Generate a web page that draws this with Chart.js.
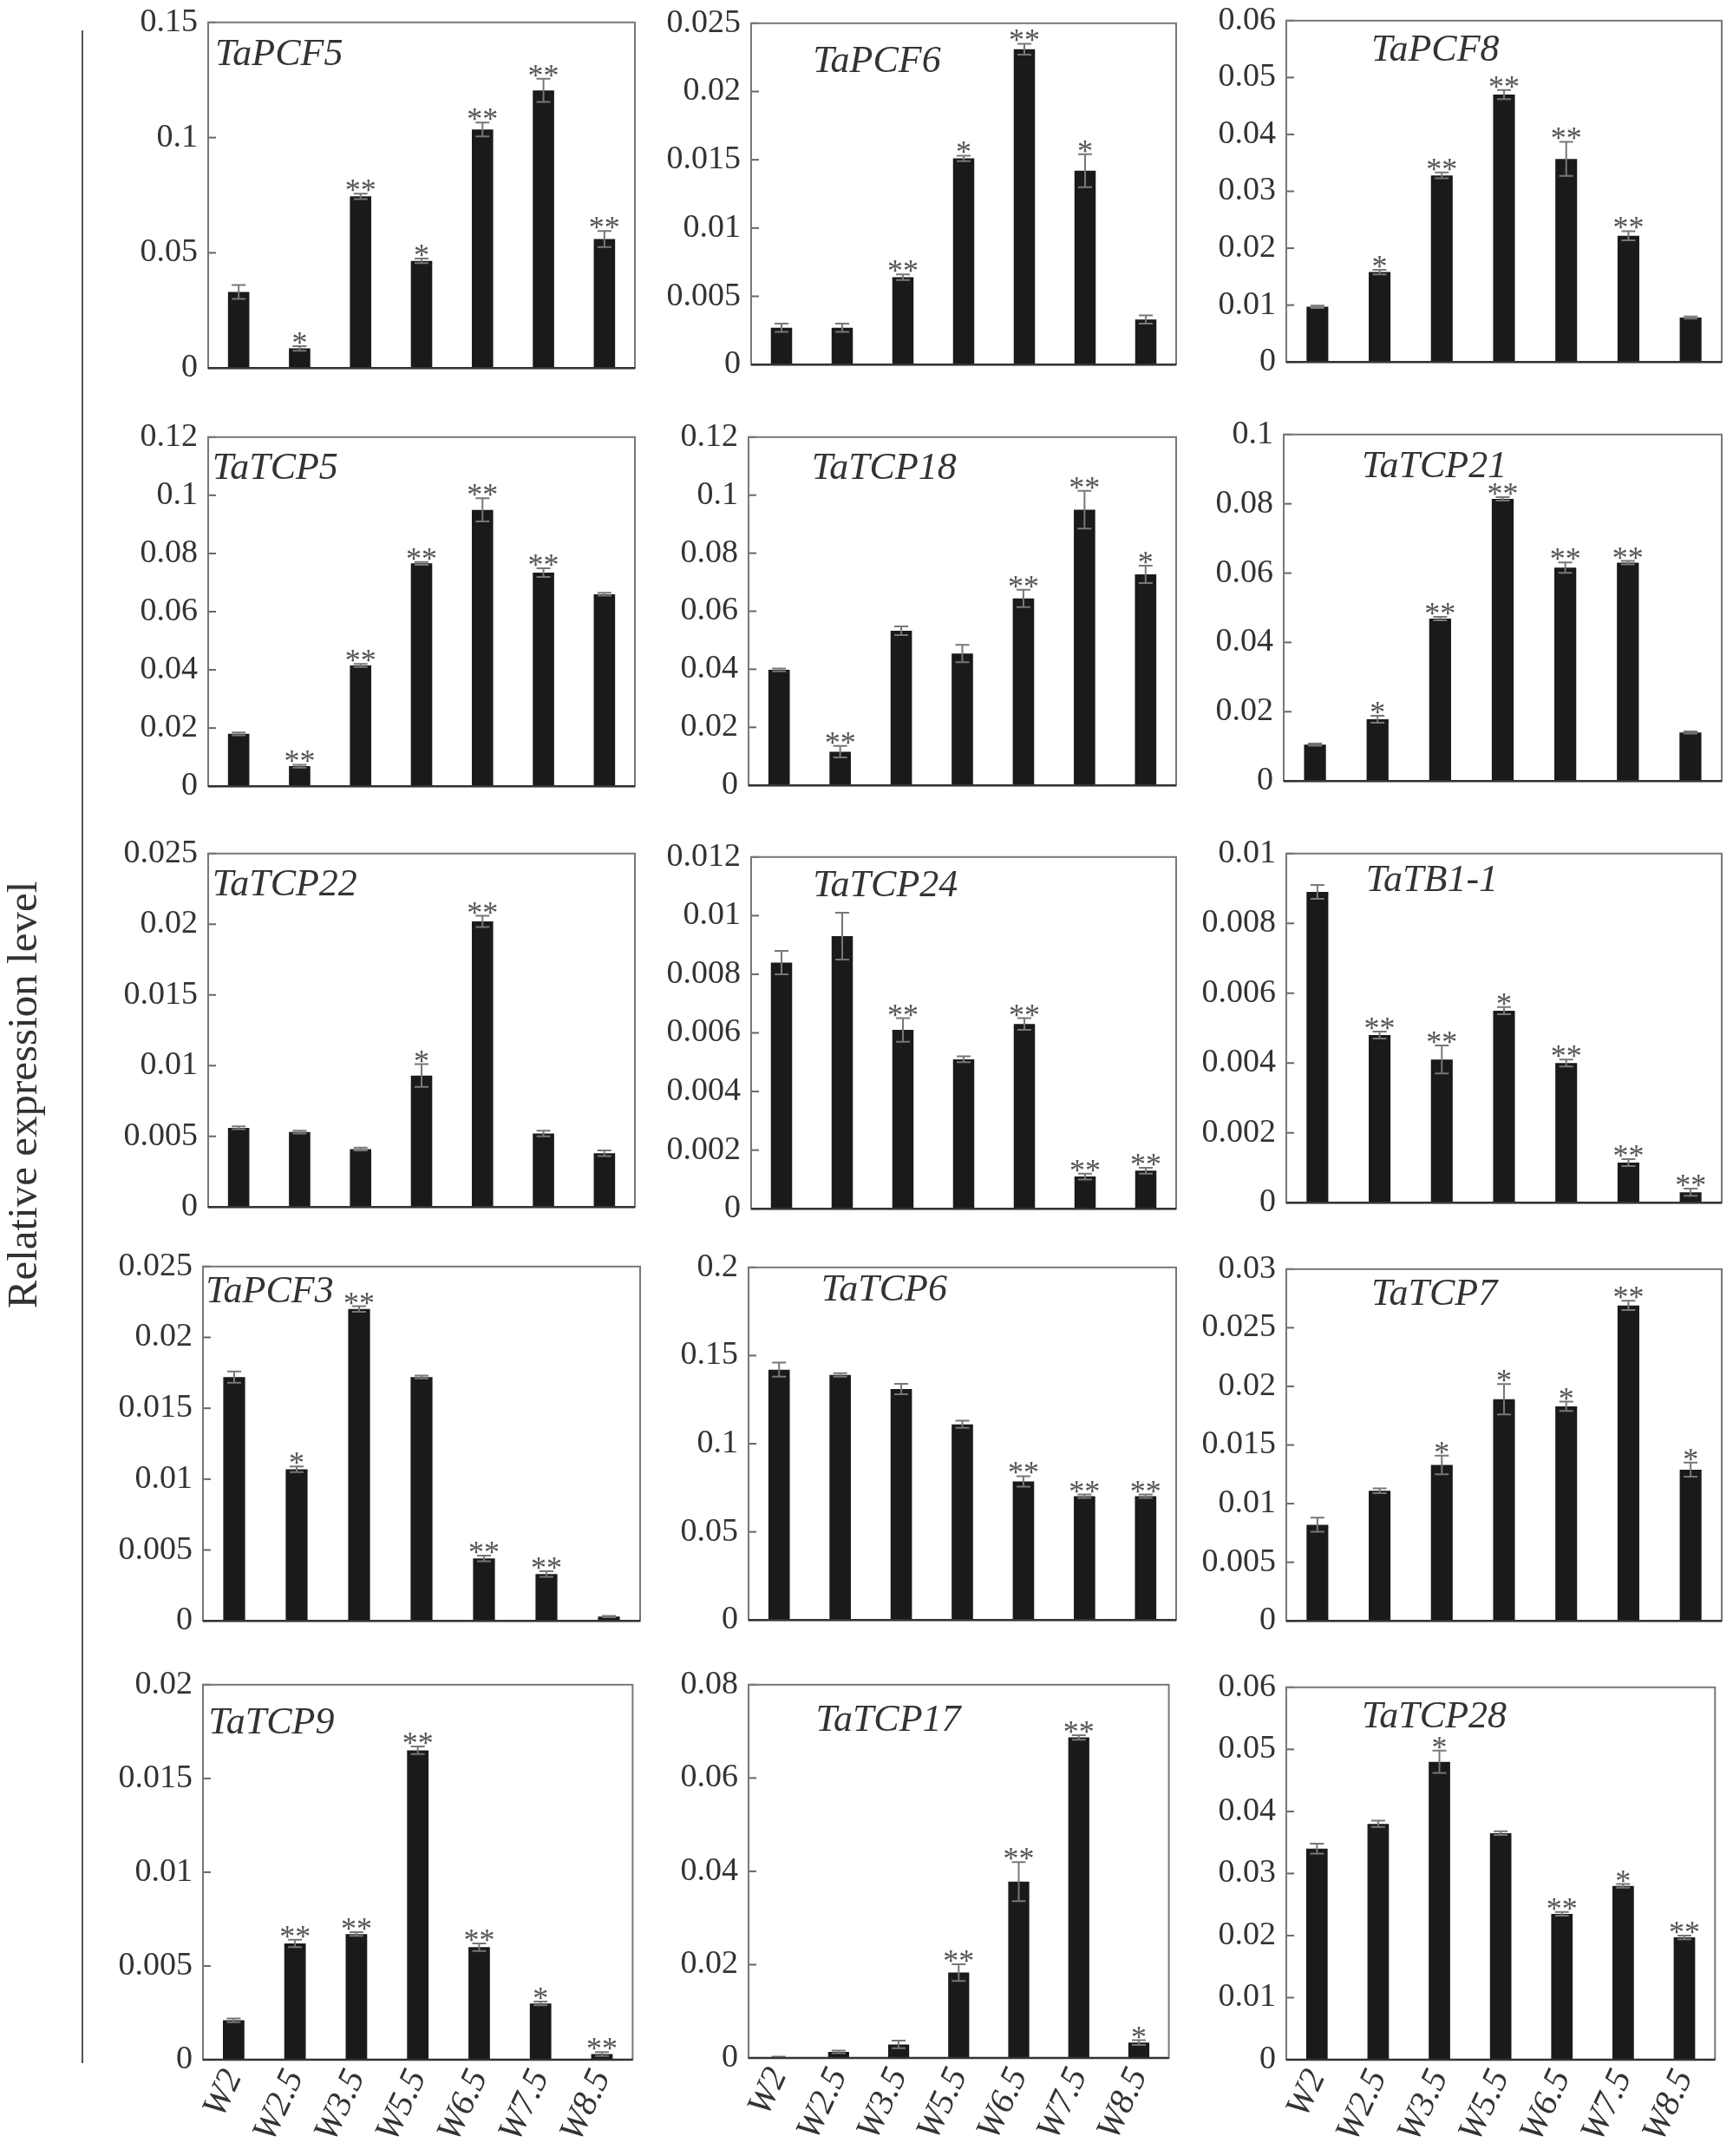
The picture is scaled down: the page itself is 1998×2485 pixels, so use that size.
<!DOCTYPE html>
<html>
<head>
<meta charset="utf-8">
<script src="https://cdn.jsdelivr.net/npm/chart.js@4"></script>
<style>
  html, body { margin:0; padding:0; background:#fff; }
  #page { position:relative; width:1998px; height:2485px; overflow:hidden; background:#fff; }
  canvas { position:absolute; }
  #ytitle { position:absolute; left:25px; top:1262px; transform:translate(-50%,-50%) rotate(-90deg);
    font-family:"Liberation Serif","Times New Roman",serif; font-size:49px; color:#333; white-space:nowrap; }
  #vline { position:absolute; left:94px; top:35px; width:2px; height:2343px; background:#555; }
</style>
</head>
<body>
<div id="page">
  <div id="vline"></div>
  <div id="ytitle">Relative expression level</div>
</div>
<script>
// ---------------- DATA ----------------
const categories = ["W2", "W2.5", "W3.5", "W5.5", "W6.5", "W7.5", "W8.5"];
const genes = ["TaPCF5","TaPCF6","TaPCF8","TaTCP5","TaTCP18","TaTCP21","TaTCP22","TaTCP24","TaTB1-1","TaPCF3","TaTCP6","TaTCP7","TaTCP9","TaTCP17","TaTCP28"];

const TaPCF5_mean = [0.033, 0.0085, 0.0745, 0.0465, 0.1035, 0.1205, 0.056];
const TaPCF5_err  = [0.003, 0.001, 0.0012, 0.001, 0.003, 0.005, 0.0035];
const TaPCF5_sig  = ["", "*", "**", "*", "**", "**", "**"];

const TaPCF6_mean = [0.0027, 0.0027, 0.0064, 0.0151, 0.0231, 0.0142, 0.0033];
const TaPCF6_err  = [0.0003, 0.0003, 0.0002, 0.0002, 0.0004, 0.0012, 0.0003];
const TaPCF6_sig  = ["", "", "**", "*", "**", "*", ""];

const TaPCF8_mean = [0.0097, 0.0158, 0.0328, 0.047, 0.0357, 0.0222, 0.0078];
const TaPCF8_err  = [0.0002, 0.0004, 0.0005, 0.0008, 0.003, 0.0008, 0.0002];
const TaPCF8_sig  = ["", "*", "**", "**", "**", "**", ""];

const TaTCP5_mean = [0.018, 0.0069, 0.0415, 0.0766, 0.095, 0.0734, 0.066];
const TaTCP5_err  = [0.0005, 0.0005, 0.0005, 0.0005, 0.004, 0.0015, 0.0005];
const TaTCP5_sig  = ["", "**", "**", "**", "**", "**", ""];

const TaTCP18_mean = [0.0398, 0.0116, 0.0533, 0.0454, 0.0644, 0.095, 0.0727];
const TaTCP18_err  = [0.0005, 0.002, 0.0015, 0.003, 0.003, 0.0065, 0.003];
const TaTCP18_sig  = ["", "**", "", "", "**", "**", "*"];

const TaTCP21_mean = [0.0105, 0.0178, 0.0469, 0.0814, 0.0616, 0.063, 0.014];
const TaTCP21_err  = [0.0003, 0.001, 0.0005, 0.0005, 0.0015, 0.0005, 0.0003];
const TaTCP21_sig  = ["", "*", "**", "**", "**", "**", ""];

const TaTCP22_mean = [0.0056, 0.0053, 0.0041, 0.0093, 0.0202, 0.0052, 0.0038];
const TaTCP22_err  = [0.0001, 0.0001, 0.0001, 0.0008, 0.0004, 0.0002, 0.0002];
const TaTCP22_sig  = ["", "", "", "*", "**", "", ""];

const TaTCP24_mean = [0.0084, 0.0093, 0.0061, 0.0051, 0.0063, 0.0011, 0.0013];
const TaTCP24_err  = [0.0004, 0.0008, 0.0004, 0.0001, 0.0002, 0.0001, 0.0001];
const TaTCP24_sig  = ["", "", "**", "", "**", "**", "**"];

const TaTB1_1_mean = [0.0089, 0.0048, 0.0041, 0.0055, 0.004, 0.00115, 0.0003];
const TaTB1_1_err  = [0.0002, 0.0001, 0.0004, 0.0001, 0.0001, 0.0001, 0.0001];
const TaTB1_1_sig  = ["", "**", "**", "*", "**", "**", "**"];

const TaPCF3_mean = [0.0172, 0.0107, 0.022, 0.0172, 0.0044, 0.0033, 0.0003];
const TaPCF3_err  = [0.0004, 0.0002, 0.0002, 0.0001, 0.0002, 0.0002, 0.00005];
const TaPCF3_sig  = ["", "*", "**", "", "**", "**", ""];

const TaTCP6_mean = [0.142, 0.139, 0.131, 0.111, 0.0786, 0.0702, 0.0702];
const TaTCP6_err  = [0.004, 0.001, 0.003, 0.002, 0.003, 0.001, 0.001];
const TaTCP6_sig  = ["", "", "", "", "**", "**", "**"];

const TaTCP7_mean = [0.0082, 0.0111, 0.0133, 0.0189, 0.0183, 0.0269, 0.0129];
const TaTCP7_err  = [0.0006, 0.0002, 0.0008, 0.0013, 0.0004, 0.0004, 0.0006];
const TaTCP7_sig  = ["", "", "*", "*", "*", "**", "*"];

const TaTCP9_mean = [0.0021, 0.0062, 0.0067, 0.0165, 0.006, 0.003, 0.0003];
const TaTCP9_err  = [0.0001, 0.0002, 0.0001, 0.0002, 0.0002, 0.0001, 0.0001];
const TaTCP9_sig  = ["", "**", "**", "**", "**", "*", "**"];

const TaTCP17_mean = [0.0002, 0.0013, 0.0029, 0.0183, 0.0378, 0.0687, 0.0033];
const TaTCP17_err  = [0.0001, 0.0003, 0.0008, 0.0018, 0.0042, 0.0005, 0.0005];
const TaTCP17_sig  = ["", "", "", "**", "**", "**", "*"];

const TaTCP28_mean = [0.034, 0.038, 0.048, 0.0365, 0.0235, 0.028, 0.0197];
const TaTCP28_err  = [0.0008, 0.0005, 0.0018, 0.0003, 0.0003, 0.0003, 0.0003];
const TaTCP28_sig  = ["", "", "*", "", "**", "*", "**"];

const yMax  = [0.15, 0.025, 0.06, 0.12, 0.12, 0.1, 0.025, 0.012, 0.01, 0.025, 0.2, 0.03, 0.02, 0.08, 0.06];
const yStep = [0.05, 0.005, 0.01, 0.02, 0.02, 0.02, 0.005, 0.002, 0.002, 0.005, 0.05, 0.005, 0.005, 0.02, 0.01];

const means = [TaPCF5_mean, TaPCF6_mean, TaPCF8_mean, TaTCP5_mean, TaTCP18_mean, TaTCP21_mean, TaTCP22_mean, TaTCP24_mean, TaTB1_1_mean, TaPCF3_mean, TaTCP6_mean, TaTCP7_mean, TaTCP9_mean, TaTCP17_mean, TaTCP28_mean];
const errs  = [TaPCF5_err, TaPCF6_err, TaPCF8_err, TaTCP5_err, TaTCP18_err, TaTCP21_err, TaTCP22_err, TaTCP24_err, TaTB1_1_err, TaPCF3_err, TaTCP6_err, TaTCP7_err, TaTCP9_err, TaTCP17_err, TaTCP28_err];
const sigs  = [TaPCF5_sig, TaPCF6_sig, TaPCF8_sig, TaTCP5_sig, TaTCP18_sig, TaTCP21_sig, TaTCP22_sig, TaTCP24_sig, TaTB1_1_sig, TaPCF3_sig, TaTCP6_sig, TaTCP7_sig, TaTCP9_sig, TaTCP17_sig, TaTCP28_sig];

// ---------------- LAYOUT (page pixels) ----------------
const SX = 1998/1264, SY = 2485/1568;
const frames = [
  [152,13,463,271],[548,14,858,268],[938,12,1256,266],
  [152,315,463,575],[546,315,858,574],[936,313,1256,571],
  [152,618,463,881],[548,620,858,882],[938,618,1256,878],
  [148,918,467,1182],[546,919,858,1181],[938,920,1256,1182],
  [148,1222,466,1498],[546,1222,858,1497],[938,1224,1256,1498]
];
const titleOff = [
  [5,24],[45,28],[62,22],
  [3,23],[46,23],[57,24],
  [3,23],[45,21],[58,20],
  [2,19],[53,17],[62,19],
  [4,28],[49,26],[55,22]
];

const FONT = '"Liberation Serif","Times New Roman",serif';
const AX = 120, PT = 30, PR = 6, PB = 30, XH = 110;

const decor = {
  id: 'decor',
  afterDatasetsDraw(chart, args, opts) {
    const ctx = chart.ctx, ca = chart.chartArea;
    const ys = chart.scales.y;
    const meta = chart.getDatasetMeta(0);
    const m = opts.mean, e = opts.err, s = opts.sig;
    ctx.save();
    ctx.strokeStyle = '#777';
    ctx.lineWidth = 2;
    for (let i = 0; i < m.length; i++) {
      const x = meta.data[i].x;
      const yT = ys.getPixelForValue(m[i] + e[i]);
      const yB = ys.getPixelForValue(Math.max(0, m[i] - e[i]));
      ctx.beginPath();
      ctx.moveTo(x, yT); ctx.lineTo(x, yB);
      ctx.moveTo(x - 8, yT); ctx.lineTo(x + 8, yT);
      ctx.moveTo(x - 8, yB); ctx.lineTo(x + 8, yB);
      ctx.stroke();
    }
    ctx.fillStyle = '#555';
    ctx.font = '36px ' + FONT;
    ctx.textAlign = 'center';
    ctx.textBaseline = 'alphabetic';
    for (let i = 0; i < m.length; i++) {
      if (!s[i]) continue;
      const x = meta.data[i].x;
      const yT = ys.getPixelForValue(m[i] + e[i]);
      ctx.fillText(s[i], x, yT + 8);
    }
    ctx.strokeStyle = '#666';
    ctx.lineWidth = 2;
    ys.ticks.forEach(t => {
      const y = ys.getPixelForValue(t.value);
      ctx.beginPath(); ctx.moveTo(ca.left, y); ctx.lineTo(ca.left + 9, y); ctx.stroke();
    });
    ctx.strokeStyle = '#777';
    ctx.lineWidth = 2;
    ctx.strokeRect(ca.left, ca.top, ca.right - ca.left, ca.bottom - ca.top);
    ctx.strokeStyle = '#333';
    ctx.lineWidth = 2.5;
    ctx.beginPath(); ctx.moveTo(ca.left, ca.bottom); ctx.lineTo(ca.right, ca.bottom); ctx.stroke();
    ctx.fillStyle = '#333';
    ctx.font = 'italic 44px ' + FONT;
    ctx.textAlign = 'left';
    ctx.textBaseline = 'middle';
    ctx.fillText(opts.title, ca.left + opts.tdx, ca.top + opts.tdy);
    ctx.restore();
  }
};

const page = document.getElementById('page');
genes.forEach((g, k) => {
  const f = frames[k];
  const L = Math.round(f[0]*SX), T = Math.round(f[1]*SY), R = Math.round(f[2]*SX), B = Math.round(f[3]*SY);
  const lastRow = k >= 12;
  const w = AX + (R - L) + PR;
  const h = PT + (B - T) + (lastRow ? XH : PB);
  const cv = document.createElement('canvas');
  cv.width = w; cv.height = h;
  cv.style.left = (L - AX) + 'px';
  cv.style.top = (T - PT) + 'px';
  cv.style.width = w + 'px'; cv.style.height = h + 'px';
  page.appendChild(cv);
  const xScale = {
    display: lastRow,
    grid: { display: false, drawTicks: false },
    border: { display: false },
    ticks: { color: '#333', font: { family: FONT, size: 41, style: 'italic' },
      minRotation: 65, maxRotation: 65, padding: 4, autoSkip: false }
  };
  if (lastRow) xScale.afterFit = s => { s.height = XH; };
  new Chart(cv, {
    type: 'bar',
    data: {
      labels: categories,
      datasets: [{ data: means[k], backgroundColor: '#1a1a1a', borderWidth: 0,
        categoryPercentage: 1.0, barPercentage: 0.35 }]
    },
    plugins: [decor],
    options: {
      responsive: false, animation: false, devicePixelRatio: 1,
      layout: { padding: { left: 0, top: PT, right: PR, bottom: lastRow ? 0 : PB } },
      plugins: {
        legend: { display: false }, tooltip: { enabled: false },
        decor: { mean: means[k], err: errs[k], sig: sigs[k], title: g,
          tdx: titleOff[k][0]*SX, tdy: titleOff[k][1]*SY }
      },
      scales: {
        x: xScale,
        y: {
          min: 0, max: yMax[k],
          grid: { display: false, drawTicks: false },
          border: { display: false },
          ticks: { stepSize: yStep[k], color: '#333', padding: 12,
            font: { family: FONT, size: 38 },
            callback: v => String(parseFloat(Number(v).toFixed(6))) },
          afterFit: s => { s.width = AX; }
        }
      }
    }
  });
});
</script>
</body>
</html>
